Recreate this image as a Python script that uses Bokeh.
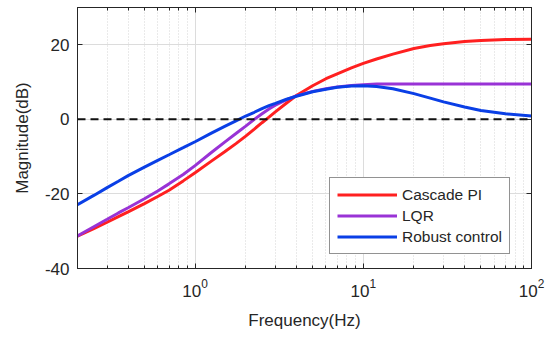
from bokeh.plotting import figure
from bokeh.models import (LogAxis, LinearAxis, Range1d, FixedTicker, Legend, LegendItem, Span,
                          LogTicker, CustomJSTickFormatter)
from bokeh.embed import file_html
from bokeh.resources import INLINE

freq = [0.2, 0.25, 0.3, 0.35, 0.4, 0.5, 0.6, 0.7, 0.85, 1.0, 1.25, 1.5, 1.75, 2.0, 2.25, 2.5, 2.75,
        3.0, 3.5, 4.0, 5.0, 6.0, 7.0, 8.5, 10, 12, 15, 20, 25, 30, 40, 50, 70, 100]
cascade_pi = [-31.3, -29.3, -27.6, -26.1, -24.8, -22.6, -20.7, -19.0, -16.5, -14.3, -11.2, -8.7, -6.5,
              -4.5, -2.6, -0.9, 0.6, 2.0, 4.4, 6.4, 9.0, 10.9, 12.2, 13.8, 15.0, 16.2, 17.5, 19.0, 19.8,
              20.3, 20.9, 21.15, 21.4, 21.5]
lqr = [-31.3, -28.8, -26.8, -25.1, -23.7, -21.3, -19.2, -17.3, -14.8, -12.4, -8.9, -6.1, -3.8,
       -1.8, 0.0, 1.5, 2.8, 3.8, 5.3, 6.3, 7.5, 8.2, 8.7, 9.1, 9.3, 9.45, 9.5, 9.5, 9.5,
       9.5, 9.5, 9.5, 9.5, 9.5]
robust = [-22.9, -20.4, -18.3, -16.6, -15.1, -12.8, -11.0, -9.5, -7.6, -6.0, -3.7, -1.9, -0.4,
          0.9, 1.9, 2.9, 3.7, 4.3, 5.4, 6.2, 7.4, 8.1, 8.6, 8.95, 9.0, 8.8, 8.2, 6.9, 5.7,
          4.7, 3.3, 2.4, 1.5, 0.9]

y_ticks = [-40, -20, 0, 20]
y_tick_labels = {-40: "-40", -20: "-20", 0: "0", 20: "20"}

FONT = "Liberation Sans"
TXT = "#262626"
AX = "#262626"

p = figure(width=555, height=337, x_axis_type="log", output_backend="svg",
           toolbar_location=None, x_range=Range1d(0.2, 100), y_range=Range1d(-40, 30),
           min_border_left=77, min_border_right=24, min_border_top=7, min_border_bottom=69)
p.background_fill_color = "white"
p.border_fill_color = "white"
p.outline_line_color = AX
p.outline_line_width = 1

# grids
p.xgrid.ticker = LogTicker(num_minor_ticks=10)
p.xgrid.grid_line_color = "#dcdcdc"
p.xgrid.grid_line_width = 1
p.xgrid.minor_grid_line_color = "#d4d4d4"
p.xgrid.minor_grid_line_dash = "1 2"
p.ygrid.ticker = FixedTicker(ticks=y_ticks)
p.ygrid.grid_line_color = "#dcdcdc"

# axes
for ax in [p.xaxis[0], p.yaxis[0]]:
    ax.axis_line_color = AX
    ax.major_tick_line_color = AX
    ax.minor_tick_line_color = AX
    ax.major_tick_in = 5
    ax.major_tick_out = 0
    ax.minor_tick_in = 3
    ax.minor_tick_out = 0
    ax.major_label_text_font = FONT
    ax.major_label_text_font_size = "17px"
    ax.major_label_text_color = TXT
    ax.axis_label_text_font = FONT
    ax.axis_label_text_font_size = "17px"
    ax.axis_label_text_color = TXT
    ax.axis_label_text_font_style = "normal"

p.xaxis[0].ticker = LogTicker(num_minor_ticks=10)
p.xaxis[0].major_label_standoff = 10
p.xaxis[0].axis_label = "Frequency(Hz)"
p.xaxis[0].axis_label_standoff = 11
p.yaxis[0].ticker = FixedTicker(ticks=y_ticks)
p.yaxis[0].major_label_overrides = y_tick_labels
p.yaxis[0].minor_tick_line_color = None
p.yaxis[0].major_label_standoff = 8
p.yaxis[0].axis_label = "Magnitude(dB)"
p.yaxis[0].axis_label_standoff = 10

top = LogAxis(ticker=LogTicker(num_minor_ticks=10), formatter=CustomJSTickFormatter(code="return '';"),
              major_tick_in=5, major_tick_out=0, minor_tick_in=3, minor_tick_out=0,
              major_label_standoff=0,
              axis_line_color=AX, major_tick_line_color=AX, minor_tick_line_color=AX)
p.add_layout(top, "above")
right = LinearAxis(ticker=FixedTicker(ticks=y_ticks), formatter=CustomJSTickFormatter(code="return '';"),
                   major_tick_in=5, major_tick_out=0, minor_tick_line_color=None,
                   major_label_standoff=0,
                   axis_line_color=AX, major_tick_line_color=AX)
p.add_layout(right, "right")

# zero reference line
p.add_layout(Span(location=0, dimension="width", line_color="#111111", line_width=2, line_dash="8 5"))

r1 = p.line(freq, cascade_pi, line_color="#FF2020", line_width=3)
r2 = p.line(freq, lqr, line_color="#9933D6", line_width=3)
r3 = p.line(freq, robust, line_color="#0A3FE6", line_width=3)

legend = Legend(items=[LegendItem(label="Cascade PI", renderers=[r1]),
                       LegendItem(label="LQR", renderers=[r2]),
                       LegendItem(label="Robust control", renderers=[r3])],
                location=(252, 14))
legend.label_text_font = FONT
legend.label_text_font_size = "15.5px"
legend.label_text_color = TXT
legend.border_line_color = AX
legend.border_line_width = 1
legend.glyph_width = 60
legend.glyph_height = 19
legend.label_height = 19
legend.spacing = 2
legend.padding = 7
legend.margin = 0
legend.label_standoff = 5
legend.background_fill_alpha = 1
p.add_layout(legend, "center")

open("out.html", "w").write(file_html(p, INLINE))
